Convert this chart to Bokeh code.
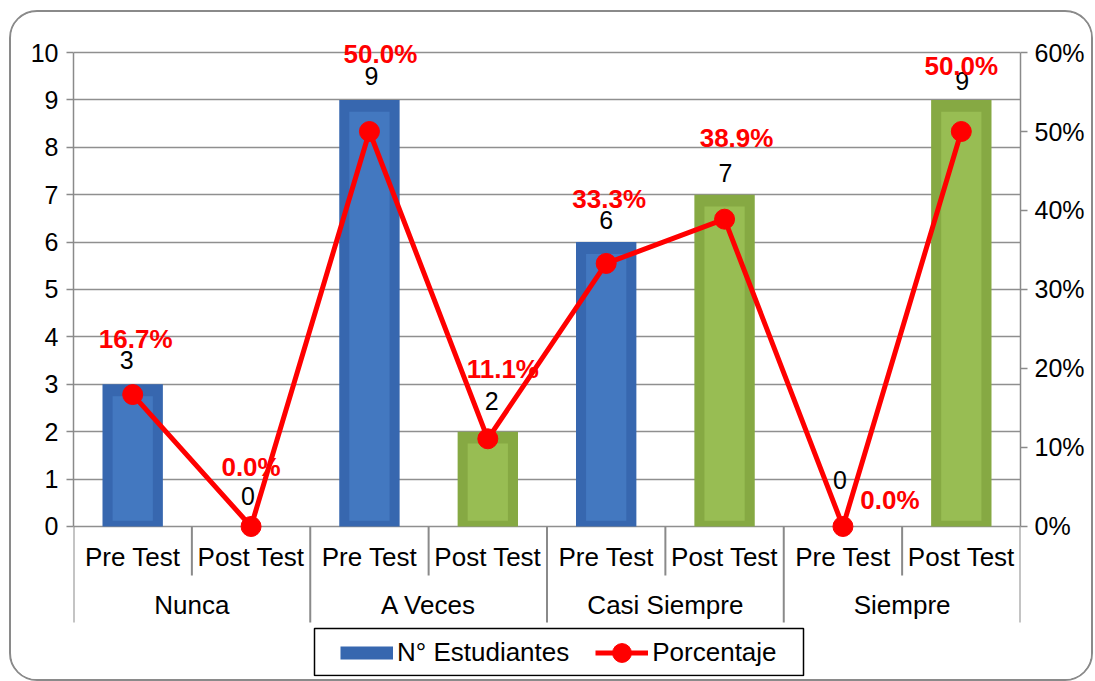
import numpy as np
from bokeh.plotting import figure
from bokeh.models import (ColumnDataSource, Range1d, LinearAxis, FixedTicker,
                          NumeralTickFormatter, Legend, LegendItem, BoxAnnotation)
from bokeh.core.properties import value
from bokeh.embed import file_html
from bokeh.resources import INLINE

# ---------------- data ----------------
groups = ["Nunca", "A Veces", "Casi Siempre", "Siempre"]
tests = ["Pre Test", "Post Test"]
counts = [3, 0, 9, 2, 6, 7, 0, 9]
percent = [16.7, 0.0, 50.0, 11.1, 33.3, 38.9, 0.0, 50.0]
left_ticks = [0, 1, 2, 3, 4, 5, 6, 7, 8, 9, 10]
right_ticks = [0.0, 0.1, 0.2, 0.3, 0.4, 0.5, 0.6]

# label placement (screen px offsets)
cnt_dx = [-6, -3, 2, 4, 0, 1, -3, 1]
cnt_dy = [-24, -30, -24, -31, -22, -22, -46, -19]
pct_dx = [3, 0, 11, 15, 3, 12, 47, 0]
pct_dy = [-56, -59, -78, -70, -64, -81, -26, -66]

FONT = "Liberation Sans"
BLUE = "#3767AF"
n = len(counts)
xs = np.arange(n) + 0.5
cnt = np.array(counts, dtype=float)
pct = np.array(percent) / 100.0
outer_col = [BLUE if i % 2 == 0 else "#86A943" for i in range(n)]
inner_col = ["#4378C0" if i % 2 == 0 else "#98BD53" for i in range(n)]

src = ColumnDataSource(dict(
    x=xs, top=cnt, pct=pct,
    itop=np.where(cnt > 0, cnt - 0.25, 0.12),
    cnt_lbl=[str(c) for c in counts],
    pct_lbl=["%.1f%%" % v for v in percent],
    cdx=cnt_dx, cdy=cnt_dy, pdx=pct_dx, pdy=pct_dy,
    oc=outer_col, ic=inner_col,
))

y_lo, y_hi = -3.165, 10.633
p = figure(width=1084, height=671, output_backend="svg", toolbar_location=None,
           x_range=Range1d(0, n), y_range=Range1d(y_lo, y_hi),
           min_border_left=62, min_border_right=75, min_border_top=10,
           min_border_bottom=7)
p.outline_line_color = None
p.background_fill_color = "white"
p.border_fill_color = "white"
p.styles = {"border": "2px solid #8a8a8a", "border-radius": "28px",
            "box-sizing": "border-box", "overflow": "hidden",
            "margin-left": "9px", "margin-top": "10px"}

p.xaxis.visible = False
p.xgrid.visible = False

# left axis
la = p.yaxis[0]
la.ticker = FixedTicker(ticks=left_ticks)
la.bounds = (0, 10)
la.axis_line_color = "#8a8a8a"
la.axis_line_width = 1.5
la.major_tick_line_color = "#8a8a8a"
la.major_tick_line_width = 1.5
la.major_tick_out = 7
la.major_tick_in = 0
la.minor_tick_line_color = None
la.major_label_text_font = FONT
la.major_label_text_font_size = "25px"
la.major_label_text_color = "black"
la.major_label_standoff = 8

p.ygrid.ticker = FixedTicker(ticks=left_ticks)
p.ygrid.grid_line_color = "#8f8f8f"
p.ygrid.grid_line_width = 1.5

# right axis
p.extra_y_ranges = {"pct": Range1d(y_lo * 0.06, y_hi * 0.06)}
ra = LinearAxis(y_range_name="pct", ticker=FixedTicker(ticks=right_ticks),
                formatter=NumeralTickFormatter(format="0%"), bounds=(0, 0.6))
ra.axis_line_color = "#8a8a8a"
ra.axis_line_width = 1.5
ra.major_tick_line_color = "#8a8a8a"
ra.major_tick_line_width = 1.5
ra.major_tick_out = 7
ra.major_tick_in = 0
ra.minor_tick_line_color = None
ra.major_label_text_font = FONT
ra.major_label_text_font_size = "25px"
ra.major_label_text_color = "black"
ra.major_label_standoff = 7
p.add_layout(ra, "right")

# category separators & labels
sep_x = np.arange(n + 1)
sep_y1 = [-2.025 if i % 2 == 0 else -1.034 for i in range(n + 1)]
p.segment(x0=sep_x, y0=[0] * (n + 1), x1=sep_x, y1=sep_y1,
          line_color="#8a8a8a", line_width=2)
p.text(x=xs, y=[-0.654] * n, text=[tests[i % 2] for i in range(n)],
       text_font=value(FONT), text_font_size="26px", text_color="black",
       text_align="center", text_baseline="middle")
p.text(x=np.arange(len(groups)) * 2 + 1.0, y=[-1.667] * len(groups), text=groups,
       text_font=value(FONT), text_font_size="26px", text_color="black",
       text_align="center", text_baseline="middle")

# bars
bars = p.vbar(x="x", top="top", bottom=0, width=0.51, source=src,
              fill_color="oc", line_color=None)
p.vbar(x="x", top="itop", bottom=0.12, width=0.34, source=src,
       fill_color="ic", line_color=None)

# count labels
p.text(x="x", y="top", text="cnt_lbl", x_offset="cdx", y_offset="cdy", source=src,
       text_font=value(FONT), text_font_size="25px", text_color="black",
       text_align="center", text_baseline="middle")

# percentage line
ln = p.line(x="x", y="pct", y_range_name="pct", source=src,
            line_color="#FF0000", line_width=5)
pts = p.scatter(x="x", y="pct", y_range_name="pct", source=src, size=20,
                marker="circle", fill_color="#FF0000", line_color="#FF0000")
p.text(x="x", y="pct", y_range_name="pct", text="pct_lbl", x_offset="pdx",
       y_offset="pdy", source=src, text_font=value(FONT), text_font_size="26px",
       text_font_style="bold", text_color="#FF0000",
       text_align="center", text_baseline="middle")

# legend swatch for the bar series (flat bar-shaped key, nothing drawn in plot)
bar_key = p.line(x=[np.nan], y=[np.nan], line_color=BLUE, line_width=13)

legend = Legend(items=[LegendItem(label="N° Estudiantes", renderers=[bar_key]),
                       LegendItem(label="Porcentaje", renderers=[ln, pts])],
                orientation="horizontal", location=(267, 0), margin=0,
                padding=0, spacing=26, label_standoff=4,
                glyph_width=53, glyph_height=47,
                label_text_font=FONT, label_text_font_size="26px",
                label_text_color="black",
                border_line_color=None, background_fill_alpha=0.0)
p.add_layout(legend, "center")
p.add_layout(BoxAnnotation(left=301, right=790, top=614, bottom=661,
                           left_units="canvas", right_units="canvas",
                           top_units="canvas", bottom_units="canvas",
                           fill_alpha=0.0, line_color="black", line_alpha=1.0,
                           line_width=1.5))

open("out.html", "w").write(file_html(p, INLINE))
